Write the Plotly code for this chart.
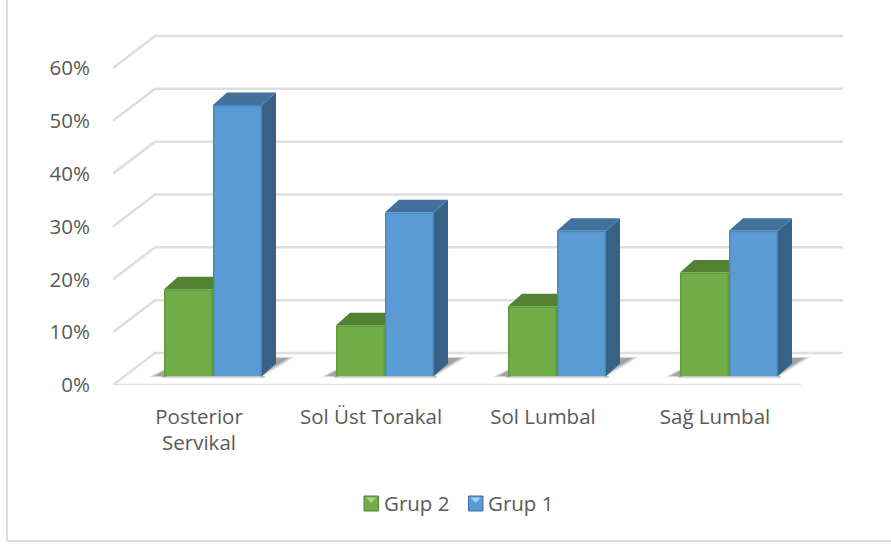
import plotly.graph_objects as go

# Chart data (percent)
categories = ["Posterior<br>Servikal", "Sol Üst Torakal", "Sol Lumbal", "Sağ Lumbal"]
grup_2 = [16.4, 9.6, 13.2, 19.6]
grup_1 = [51.3, 31, 27.5, 27.5]
value_ticks = [0, 10, 20, 30, 40, 50, 60]
value_labels = ["0%", "10%", "20%", "30%", "40%", "50%", "60%"]

FONT = "Open Sans"
FONT_SIZE = 20.5
TEXT = "#595959"
GRID = "#dedede"

WIDTH, HEIGHT = 891, 545
PLOT_L, PLOT_R, PLOT_T, PLOT_B = 113, 860, 10, 385
PX_PER_CATEGORY = 172
PX_PER_PERCENT = 5.283


def dx(px):
    return px / PX_PER_CATEGORY


def dy(px):
    return px / PX_PER_PERCENT


# Oblique projection used for the pseudo-3D look
WALL_X, WALL_Y = dx(42), dy(32)
GROUP_SHIFT = dx(14)
BAR_FLOOR = dy(9)
BAR_W = dx(49)
DEPTH_X, DEPTH_Y = dx(14), dy(12.5)

fig = go.Figure()


def poly(xs, ys, fill, line=None, width=0):
    fig.add_trace(go.Scatter(
        x=xs + xs[:1], y=ys + ys[:1], mode="lines", fill="toself",
        fillcolor=fill, line=dict(color=line or "rgba(0,0,0,0)", width=width),
        hoverinfo="skip", showlegend=False, cliponaxis=False,
    ))


def wire(xs, ys):
    fig.add_trace(go.Scatter(
        x=xs, y=ys, mode="lines", line=dict(color=GRID, width=2.5),
        hoverinfo="skip", showlegend=False, cliponaxis=False,
    ))


# Back wall and left wall gridlines
x_min, x_max = -0.5, len(categories) - 0.5
for v in value_ticks:
    wire([x_min, x_min + WALL_X, x_max + WALL_X],
         [v, v + WALL_Y, v + WALL_Y])
wire([x_min, x_max], [0, 0])

# Soft floor shadows, built up from translucent layers
for i in range(len(categories)):
    left = i + GROUP_SHIFT - BAR_W
    right = i + GROUP_SHIFT + BAR_W
    f = BAR_FLOOR
    for grow, alpha in ((7, 0.05), (5.5, 0.06), (4, 0.07), (2.5, 0.08), (1, 0.10), (-0.5, 0.12), (-2, 0.12)):
        gx, gy = dx(grow), dy(grow)
        poly([right - dx(2), right + dx(27) + gx, right + dx(13), right],
             [f - gy * 0.4, f + dy(18) + gy * 0.2, f + dy(18) + gy * 0.2, f],
             f"rgba(60,60,60,{alpha})")
        poly([left - dx(10) - gx, left + dx(3), left + dx(3)],
             [f - gy * 0.2, f + dy(7) + gy * 0.2, f - gy * 0.2],
             f"rgba(60,60,60,{alpha})")
        poly([left - dx(2), right + dx(3), right + dx(3), left - dx(2)],
             [f - dy(0.5) - gy * 0.3, f - dy(0.5) - gy * 0.3, f, f],
             f"rgba(60,60,60,{alpha})")

# Bars: painted back to front, left series first
series = [
    (grup_2, -BAR_W, "#70ad47", "#5f9a3a", "#548235", "#446b2c"),
    (grup_1, 0.0, "#5b9bd5", "#4a86bf", "#41719c", "#376287"),
]
inset_x, inset_y = dx(1.5), dy(1.5)
for i in range(len(categories)):
    for values, offset, front, edge, top, side in series:
        v = values[i]
        l = i + GROUP_SHIFT + offset
        r = l + BAR_W
        f = BAR_FLOOR
        t = f + v
        poly([r, r + DEPTH_X, r + DEPTH_X, r],
             [f, f + DEPTH_Y, t + DEPTH_Y, t], side)
        poly([l, l + DEPTH_X, r + DEPTH_X, r],
             [t, t + DEPTH_Y, t + DEPTH_Y, t], top)
        poly([l, r, r, l], [f, f, t, t], edge)
        poly([l + inset_x, r - inset_x, r - inset_x, l + inset_x],
             [f, f, t - inset_y, t - inset_y], front)

# Legend swatches and labels sit in paper coordinates


def px(x):
    return (x - PLOT_L) / (PLOT_R - PLOT_L)


def py(y):
    return (PLOT_B - y) / (PLOT_B - PLOT_T)


shapes = [
    dict(type="line", xref="paper", yref="paper", x0=px(7), x1=px(7),
         y0=py(0), y1=py(541), line=dict(color="#dcdcdc", width=2)),
    dict(type="line", xref="paper", yref="paper", x0=px(7), x1=px(891),
         y0=py(541), y1=py(541), line=dict(color="#dcdcdc", width=2)),
]
annotations = []
legend_items = [
    ("Grup 2", 364, "#70ad47", "#548235", "#a9d98a"),
    ("Grup 1", 468.5, "#5b9bd5", "#41719c", "#9fd0f5"),
]
for name, sx, main, dark, light in legend_items:
    shapes.append(dict(type="rect", xref="paper", yref="paper",
                       x0=px(sx), x1=px(sx + 14.5), y0=py(496), y1=py(511),
                       fillcolor=main, line=dict(color=dark, width=1)))
    shapes.append(dict(type="path", xref="paper", yref="paper",
                       path=f"M{px(sx + 2)},{py(497.5)} L{px(sx + 12.5)},{py(497.5)} "
                            f"L{px(sx + 7.25)},{py(503)} Z",
                       fillcolor=light, line=dict(width=0)))
    annotations.append(dict(text=name, xref="paper", yref="paper",
                            x=px(sx + 17.5), y=py(503), xanchor="left", yanchor="middle",
                            showarrow=False, font=dict(family=FONT, size=FONT_SIZE, color=TEXT)))

fig.update_layout(
    width=WIDTH, height=HEIGHT, autosize=False,
    margin=dict(l=PLOT_L, r=WIDTH - PLOT_R, t=PLOT_T, b=HEIGHT - PLOT_B, pad=0),
    paper_bgcolor="white", plot_bgcolor="white",
    showlegend=False, shapes=shapes, annotations=annotations,
    font=dict(family=FONT, size=FONT_SIZE, color=TEXT),
)
fig.update_xaxes(
    range=[x_min, x_min + (PLOT_R - PLOT_L) / PX_PER_CATEGORY],
    tickmode="array", tickvals=list(range(len(categories))), ticktext=categories,
    showgrid=False, zeroline=False, showline=False,
    ticks="outside", ticklen=13, tickcolor="rgba(0,0,0,0)",
    tickfont=dict(family=FONT, size=FONT_SIZE, color=TEXT),
)
fig.update_yaxes(
    range=[0, (PLOT_B - PLOT_T) / PX_PER_PERCENT],
    tickmode="array", tickvals=value_ticks, ticktext=value_labels,
    showgrid=False, zeroline=False, showline=False,
    ticks="outside", ticklen=18, tickcolor="rgba(0,0,0,0)",
    tickfont=dict(family=FONT, size=FONT_SIZE, color=TEXT),
)

fig.write_html("out.html")
